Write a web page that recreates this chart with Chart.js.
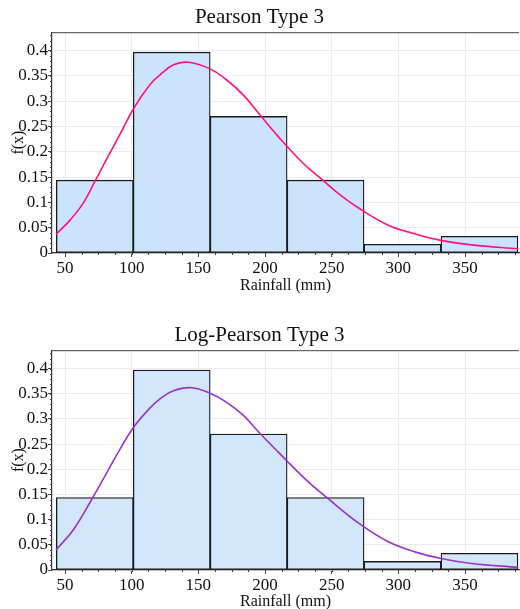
<!DOCTYPE html>
<html>
<head>
<meta charset="utf-8">
<title>Pearson / Log-Pearson Type 3</title>
<script src="https://cdn.jsdelivr.net/npm/chart.js@4.4.0/dist/chart.umd.min.js"></script>
<style>
  html, body { margin: 0; padding: 0; background: #fff; }
  canvas { position: absolute; left: 0; }
  #pearsonChart { top: 0; }
  #logPearsonChart { top: 300px; }
</style>
</head>
<body>
<canvas id="pearsonChart" width="520" height="300"></canvas>
<canvas id="logPearsonChart" width="520" height="309"></canvas>
<script>
// histogram bins (rainfall, mm) and relative frequencies
const binEdges = [43.5, 101.2, 158.9, 216.6, 274.3, 332.0, 389.7];
const relFreq = [0.144, 0.397, 0.270, 0.144, 0.017, 0.033];

// fitted Pearson Type 3 curve
const pearsonX = [43.3, 53.8, 63.8, 72.5, 81.3, 91.3, 101.3, 113.8, 121.3, 131.3, 142.5, 158.8, 171.3, 183.8, 196.3, 210, 228.8, 242.5, 256.3, 270.8, 292.5, 312.5, 332, 355, 390];
const pearsonY = [0.037, 0.065, 0.099, 0.142, 0.186, 0.235, 0.285, 0.333, 0.352, 0.372, 0.377, 0.364, 0.342, 0.312, 0.273, 0.230, 0.177, 0.146, 0.115, 0.088, 0.055, 0.038, 0.025, 0.016, 0.008];

// fitted Log-Pearson Type 3 curve
const logPearsonX = [43.3, 56.3, 70, 81.3, 91.3, 101.3, 113.8, 121.3, 131.3, 145, 158.8, 171.3, 183.8, 196.3, 210, 231.3, 246.3, 270.8, 292.5, 312.5, 332, 355, 390];
const logPearsonY = [0.040, 0.080, 0.140, 0.193, 0.240, 0.283, 0.322, 0.340, 0.356, 0.362, 0.351, 0.333, 0.307, 0.271, 0.234, 0.178, 0.144, 0.092, 0.056, 0.036, 0.023, 0.013, 0.005];

const xTicks = [50, 100, 150, 200, 250, 300, 350];
const yTicks = [0, 0.05, 0.1, 0.15, 0.2, 0.25, 0.3, 0.35, 0.4];

Chart.defaults.font.family = "'Liberation Serif', 'Times New Roman', serif";
Chart.defaults.color = '#111';

// small minor ticks on both axes + the top frame line
const frameAndMinorTicks = {
  id: 'frameAndMinorTicks',
  afterDraw(chart) {
    const { ctx, chartArea: a } = chart;
    const x = chart.scales.x, y = chart.scales.y;
    ctx.save();
    ctx.strokeStyle = '#444';
    ctx.lineWidth = 1;
    ctx.beginPath();
    for (let v = Math.ceil(x.min / 12.5) * 12.5; v <= x.max; v += 12.5) {
      const px = Math.round(x.getPixelForValue(v)) + 0.5;
      ctx.moveTo(px, a.bottom);
      ctx.lineTo(px, a.bottom + 2);
    }
    for (let k = 0; k * 0.01 <= y.max; k++) {
      const py = Math.round(y.getPixelForValue(k * 0.01)) + 0.5;
      ctx.moveTo(a.left - 2, py);
      ctx.lineTo(a.left, py);
    }
    ctx.moveTo(a.left, a.top + 0.5);
    ctx.lineTo(a.right, a.top + 0.5);
    ctx.stroke();
    ctx.restore();
  }
};

function makeChart(id, title, curveX, curveY, curveColor, barColor, lay) {
  const centers = relFreq.map((f, i) => (binEdges[i] + binEdges[i + 1]) / 2);
  const chart = new Chart(document.getElementById(id), {
    type: 'line',
    data: {
      datasets: [
        {
          type: 'line',
          data: curveX.map((v, i) => ({ x: v, y: curveY[i] })),
          borderColor: curveColor,
          borderWidth: 1.6,
          pointRadius: 0,
          tension: 0.4,
          fill: false,
          order: 0
        },
        {
          type: 'bar',
          data: centers.map((c, i) => ({ x: c, y: relFreq[i] })),
          backgroundColor: barColor,
          borderColor: '#1a1a1a',
          borderWidth: 1.3,
          borderSkipped: false,
          barPercentage: 1,
          categoryPercentage: 1,
          order: 1
        }
      ]
    },
    options: {
      responsive: false,
      animation: false,
      layout: { padding: { left: 0, right: 1, top: 0, bottom: lay.bottom } },
      plugins: {
        legend: { display: false },
        tooltip: { enabled: false },
        title: {
          display: true,
          text: title,
          color: '#111',
          font: { size: 21, weight: 'normal' },
          padding: { top: lay.titleTop, bottom: 2 }
        }
      },
      scales: {
        x: {
          type: 'linear',
          offset: false,
          min: 40.25,
          max: 390.5,
          afterFit: s => { s.height = lay.xHeight; },
          afterBuildTicks: s => { s.ticks = xTicks.map(v => ({ value: v })); },
          grid: { offset: false, color: '#ececec', tickColor: '#444', tickLength: 4 },
          border: { color: '#333', width: 1.2 },
          ticks: { padding: 1, font: { size: 17 }, color: '#111', maxRotation: 0, autoSkip: false },
          title: { display: true, text: 'Rainfall (mm)', font: { size: 16 }, color: '#111', padding: { top: 0, bottom: lay.xTitleBottom } }
        },
        y: {
          type: 'linear',
          min: 0,
          max: 0.4365,
          afterFit: s => { s.width = 52; },
          afterBuildTicks: s => { s.ticks = yTicks.map(v => ({ value: v })); },
          grid: { color: '#ececec', tickColor: '#444', tickLength: 4 },
          border: { color: '#333', width: 1.2 },
          ticks: {
            padding: 0,
            font: { size: 17 },
            color: '#111',
            autoSkip: false,
            callback: v => String(Number(v.toFixed(2)))
          },
          title: { display: true, text: 'f(x)', font: { size: 16 }, color: '#111', padding: { top: 9, bottom: 0 } }
        }
      }
    },
    plugins: [frameAndMinorTicks]
  });
  // bars must be exactly one bin wide on the x scale
  const sx = chart.scales.x;
  chart.data.datasets[1].barThickness = sx.getPixelForValue(binEdges[1]) - sx.getPixelForValue(binEdges[0]);
  chart.update('none');
  return chart;
}

makeChart('pearsonChart', 'Pearson Type 3', pearsonX, pearsonY, 'rgb(255,16,128)', '#cce4fb',
  { bottom: 5, titleTop: 5, xHeight: 42, xTitleBottom: 0 });
makeChart('logPearsonChart', 'Log-Pearson Type 3', logPearsonX, logPearsonY, 'rgb(153,50,204)', '#d2e7fb',
  { bottom: 0, titleTop: 23, xHeight: 39, xTitleBottom: -2.6 });
</script>
</body>
</html>
